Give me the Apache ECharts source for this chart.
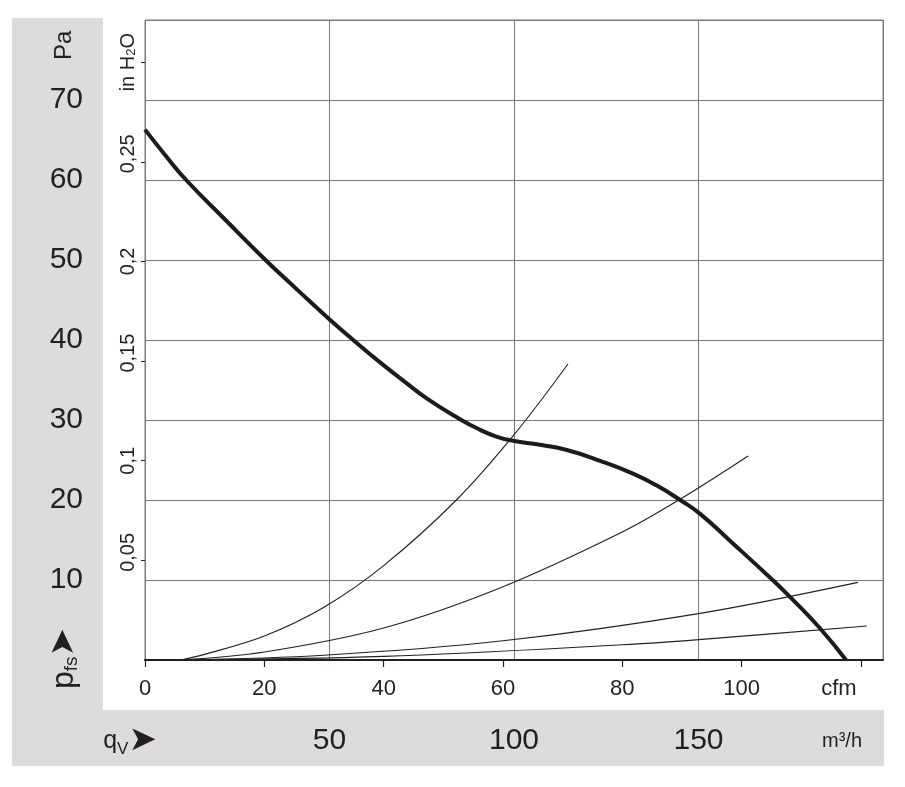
<!DOCTYPE html>
<html>
<head>
<meta charset="utf-8">
<title>p_fs / q_V</title>
<script src="https://cdn.jsdelivr.net/npm/echarts@6/dist/echarts.min.js"></script>
<style>
  html, body { margin: 0; padding: 0; background: #fff; }
  #chart { width: 905px; height: 787px; }
</style>
</head>
<body>
<div id="chart"></div>
<script>
// fan curve, flow in cfm / static pressure in Pa
const curveFlow  = [0, 3.4, 6.9, 13.5, 20.2, 25.5, 30.9, 34.9, 39.4, 43.5, 47.4, 52.8, 56.1, 59, 61.7, 66.2, 70.7, 76.3, 81.8, 85.8, 89.7, 93.0, 98.5, 105.2, 108.1, 113.1, 117.5]
const curvePress = [66.3, 63.1, 60, 55, 50, 46.3, 42.6, 40, 37.2, 34.8, 32.6, 30.1, 28.8, 27.9, 27.4, 26.9, 26.25, 24.9, 23.3, 21.8, 20, 18.3, 14.6, 10, 7.9, 4, 0]

// system resistance curves (thin lines)
const sysAFlow  = [6, 10, 20, 30, 40, 52.2, 61.8, 70.9]
const sysAPress = [0, 0.7, 3.0, 6.6, 11.8, 20, 28.1, 37]
const sysBFlow  = [6, 20, 40, 59.5, 80, 89.7, 101.1]
const sysBPress = [0, 1.0, 4.0, 9.0, 16.0, 20.1, 25.5]
const sysCFlow  = [6, 30, 60, 92.8, 119.5]
const sysCPress = [0, 0.6, 2.4, 5.8, 9.7]
const sysDFlow  = [6, 40, 80, 92.8, 121]
const sysDPress = [0, 0.45, 1.9, 2.55, 4.25]

// axis ticks
const cfmTicks   = [0, 20, 40, 60, 80, 100, 120]
const m3hTicks   = [0, 50, 100, 150, 200]
const paTicks    = [0, 10, 20, 30, 40, 50, 60, 70, 80]
const inH2OTicks = [0.05, 0.1, 0.15, 0.2, 0.25, 0.3]

const FONT  = "'Liberation Sans', Arial, sans-serif"
const ARROW = "'DejaVu Sans', sans-serif"
const INK   = '#231f20'
const GRID  = '#7a7a7a'
const BAND  = '#dcdcdc'

const CFM_MAX   = 123.7          // right edge of the plot in cfm
const INH2O_MAX = 80 / 249.089   // 80 Pa in inch water

const pairs = (xs, ys) => xs.map((x, i) => [x, ys[i]])

const chart = echarts.init(document.getElementById('chart'), null, { renderer: 'canvas' })

const thin = (data) => ({
  type: 'line', data, smooth: 0.35, symbol: 'none', silent: true,
  xAxisIndex: 0, yAxisIndex: 0,
  lineStyle: { color: INK, width: 1.1 }, z: 2,
})

const option = {
  animation: false,
  backgroundColor: '#fff',
  graphic: {
    elements: [
      { type: 'rect', z: -10, shape: { x: 12, y: 18, width: 91, height: 748 }, style: { fill: BAND } },
      { type: 'rect', z: -10, shape: { x: 12, y: 710, width: 872, height: 56 }, style: { fill: BAND } },
    ],
  },
  grid: {
    left: 145, top: 20, width: 738, height: 640, outerBoundsMode: 'none',
    show: true, borderColor: GRID, borderWidth: 1, backgroundColor: '#fff',
  },
  xAxis: [
    { // cfm
      type: 'value', position: 'bottom', min: 0, max: CFM_MAX, interval: 20,
      axisLine: { onZero: false, lineStyle: { color: INK, width: 2 } },
      axisTick: { show: true, inside: false, length: 7, customValues: cfmTicks, lineStyle: { color: INK, width: 1.2 } },
      axisLabel: {
        customValues: cfmTicks, margin: 18, fontSize: 22, color: INK, fontFamily: FONT,
        formatter: v => v === 120 ? '{c|cfm}{g| }' : String(v),
        rich: {
          c: { fontSize: 22, color: INK, fontFamily: FONT },
          g: { width: 44 },
        },
      },
      splitLine: { show: false },
    },
    { // m3/h
      type: 'value', position: 'bottom', offset: 60, min: 0, max: 200, interval: 50,
      axisLine: { show: false, onZero: false },
      axisTick: { show: false },
      axisLabel: {
        customValues: m3hTicks, margin: 21, verticalAlign: 'middle', fontSize: 30, color: INK, fontFamily: FONT,
        formatter: v => {
          if (v === 0) return '{q|q}{v|V}{a|➤}{g| }'
          if (v === 200) return '{u|m³/h}{h| }'
          return String(v)
        },
        rich: {
          q: { fontSize: 25, color: INK, fontFamily: FONT },
          v: { fontSize: 17, color: INK, fontFamily: FONT, verticalAlign: 'bottom' },
          a: { fontSize: 34, color: INK, fontFamily: ARROW },
          g: { width: 30 },
          u: { fontSize: 20, color: INK, fontFamily: FONT },
          h: { width: 82 },
        },
      },
      splitLine: { show: true, lineStyle: { color: GRID, width: 1 } },
    },
  ],
  yAxis: [
    { // Pa
      type: 'value', position: 'left', offset: 81, min: 0, max: 80, interval: 10,
      axisLine: { show: false, onZero: false },
      axisTick: { show: false },
      axisLabel: {
        customValues: paTicks, margin: -19, align: 'right', fontSize: 30, color: INK, fontFamily: FONT,
        padding: [4, 0, 0, 0],
        formatter: v => (v === 0 || v === 80) ? '' : String(v),
      },
      splitLine: { show: true, lineStyle: { color: GRID, width: 1 } },
      name: 'Pa', nameLocation: 'end', nameGap: -40, nameRotate: 90,
      nameTextStyle: { fontSize: 24, color: INK, fontFamily: FONT },
    },
    { // in H2O
      type: 'value', position: 'left', min: 0, max: INH2O_MAX, interval: 0.05,
      axisLine: { show: false, onZero: false },
      axisTick: { show: true, inside: false, length: 4, customValues: inH2OTicks, lineStyle: { color: INK, width: 1 } },
      axisLabel: {
        customValues: inH2OTicks, rotate: 90, margin: 7, fontSize: 20, color: INK, fontFamily: FONT,
        formatter: v => {
          if (Math.abs(v - 0.3) < 1e-6) return '{t|in H}{s|2}{t|O}'
          const s = String(+v.toFixed(2)).replace('.', ',')
          return s.length > 3 ? '{g| }{t|' + s + '}' : '{t|' + s + '}'
        },
        rich: {
          t: { fontSize: 20, color: INK, fontFamily: FONT },
          s: { fontSize: 13, color: INK, fontFamily: FONT, verticalAlign: 'bottom' },
          g: { width: 16 },
        },
      },
      splitLine: { show: false },
    },
    { // p_fs caption
      type: 'value', position: 'left', offset: 81, min: 0, max: 80,
      axisLine: { show: false, onZero: false }, axisTick: { show: false },
      axisLabel: { show: false }, splitLine: { show: false },
      name: '{p|p}{f|fs}{a|➤}', nameLocation: 'start', nameGap: -32, nameRotate: 90,
      nameTextStyle: {
        color: INK, fontFamily: FONT,
        rich: {
          p: { fontSize: 32, color: INK, fontFamily: FONT },
          f: { fontSize: 19, color: INK, fontFamily: FONT, verticalAlign: 'bottom' },
          a: { fontSize: 34, color: INK, fontFamily: ARROW },
        },
      },
    },
  ],
  series: [
    thin(pairs(sysAFlow, sysAPress)),
    thin(pairs(sysBFlow, sysBPress)),
    thin(pairs(sysCFlow, sysCPress)),
    thin(pairs(sysDFlow, sysDPress)),
    {
      type: 'line', data: pairs(curveFlow, curvePress), smooth: 0.5, symbol: 'none', silent: true,
      xAxisIndex: 0, yAxisIndex: 0,
      lineStyle: { color: '#1b1b1b', width: 4 }, z: 3,
    },
  ],
}

chart.setOption(option)
</script>
</body>
</html>
